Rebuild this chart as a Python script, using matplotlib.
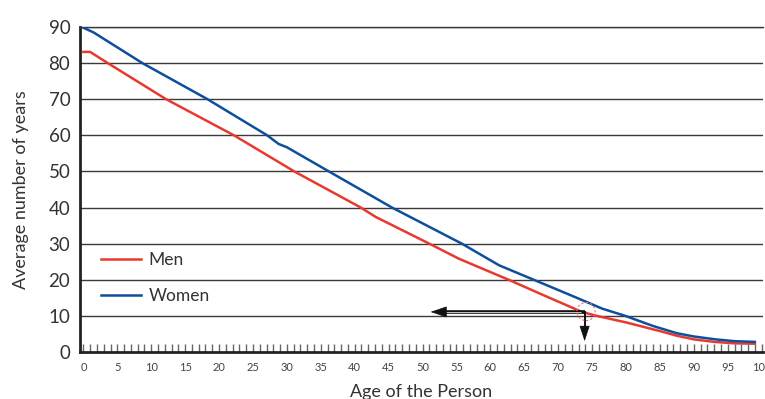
import matplotlib
matplotlib.use("Agg")
import matplotlib.pyplot as plt
from matplotlib.patches import Ellipse
import numpy as np

plt.rcParams['font.family'] = ['Lato', 'DejaVu Sans']

men_age = [0, 1, 3.6, 12.2, 22.2, 31.1, 40.9, 43.1, 51, 55.4, 62.7, 68, 73.5, 75.7, 80, 85, 87.5, 90, 93, 96, 99]
men_years = [83.1, 83.1, 80, 70, 60, 50, 40, 37.4, 30, 25.8, 20, 15.6, 11.1, 10, 8.2, 5.8, 4.5, 3.5, 2.8, 2.4, 2.3]
women_age = [0, 1.5, 8.7, 18.3, 27.1, 28.8, 30, 36.2, 45.5, 55.8, 61.3, 66.4, 72, 76.5, 79.9, 84, 87.5, 90, 93.2, 96, 99]
women_years = [89.8, 88.5, 80, 70, 60, 57.6, 56.7, 50, 40, 30, 24, 20, 15.6, 12, 10, 7.2, 5.2, 4.3, 3.5, 3.0, 2.8]
x_ticks = list(range(0, 101, 5))
y_ticks = list(range(0, 91, 10))

W, H = 765, 399
fig = plt.figure(figsize=(W/100, H/100), dpi=100)
ax = fig.add_axes([80/W, 1-352/H, (763-80)/W, (352-27)/H])

ax.set_xlim(-0.5, 100.2)
ax.set_ylim(0, 90)

for y in y_ticks[1:]:
    ax.axhline(y, color='#3a3a3a', lw=1.0, zorder=1)

red = '#e8392f'
blue = '#0d4f9c'
ax.plot(men_age, men_years, color=red, lw=1.8, label='Men', zorder=3)
ax.plot(women_age, women_years, color=blue, lw=1.8, label='Women', zorder=3)

# annotation arrows
ay = 11.1
ax.plot([53.0, 73.9], [ay, ay], color='#111111', lw=2.6, zorder=4, solid_capstyle='butt')
ax.plot([53.0, 73.4], [ay, ay], color='#e0e0e0', lw=0.6, zorder=5, solid_capstyle='butt')
ax.annotate('', xy=(51.2, ay), xytext=(53.5, ay),
            arrowprops=dict(arrowstyle='-|>,head_length=1.05,head_width=0.36', mutation_scale=10,
                            color='#111111', lw=0.5, shrinkA=0, shrinkB=0), zorder=6)
ax.plot([73.9, 73.9], [ay, 6.0], color='#111111', lw=1.4, zorder=4)
ax.annotate('', xy=(73.9, 3.0), xytext=(73.9, 6.5),
            arrowprops=dict(arrowstyle='-|>,head_length=1.0,head_width=0.33', mutation_scale=10,
                            color='#111111', lw=0.5, shrinkA=0, shrinkB=0), zorder=6)
ax.add_patch(Ellipse((74.1, 11.2), width=2.7, height=5.0, fill=False, ls=(0, (2, 2)),
                     edgecolor='#f07070', lw=0.8, zorder=6))

ax.set_xticks(x_ticks)
ax.set_xticks(np.arange(0, 101, 1), minor=True)
ax.set_yticks(y_ticks)
ax.tick_params(axis='x', which='both', direction='in', length=6, width=1, color='#666666',
               labelsize=8, labelcolor='#444444', pad=7)
ax.tick_params(axis='y', which='both', length=0, labelsize=13.5, labelcolor='#333333', pad=7)

ax.spines['right'].set_visible(False)
ax.spines['left'].set_linewidth(2.0)
ax.spines['bottom'].set_linewidth(2.0)
ax.spines['left'].set_color('#222222')
ax.spines['bottom'].set_color('#222222')
ax.spines['top'].set_linewidth(1.0)
ax.spines['top'].set_color('#3a3a3a')

ax.set_xlabel('Age of the Person', fontsize=13, color='#333333', labelpad=8)
ax.set_ylabel('Average number of years', fontsize=13, color='#333333', labelpad=14)

leg = ax.legend(loc='upper left', bbox_to_anchor=(0.0, 0.373), frameon=False, fontsize=12.5,
                handlelength=2.3, labelspacing=1.2, borderaxespad=0.8, handletextpad=0.45)
for t in leg.get_texts():
    t.set_color('#333333')

fig.savefig('out.png', dpi=100)
